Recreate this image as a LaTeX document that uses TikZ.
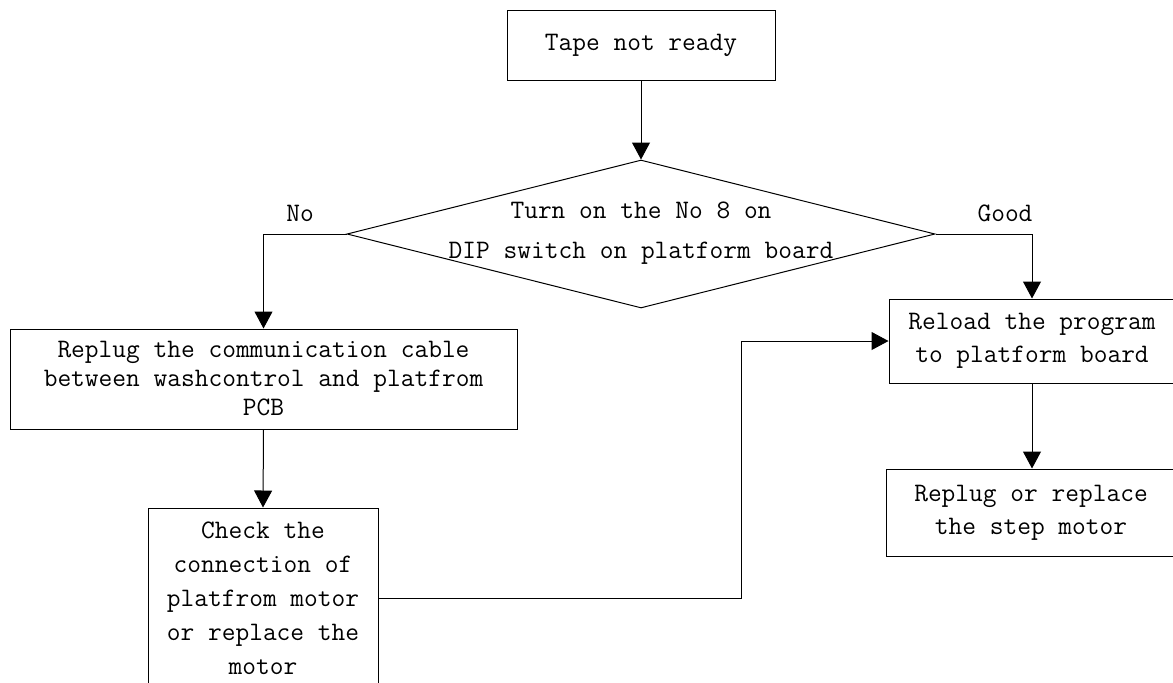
\documentclass[tikz,border=0pt]{standalone}
\usepackage{tikz}
\usetikzlibrary{shapes.geometric,arrows.meta,calc,positioning}
\tikzset{
    box/.style={draw, line width=0.75pt, inner sep=0pt, align=center, font=\fontsize{20}{#1}\ttfamily},
    box/.default={25pt},
    decision/.style={draw, diamond, line width=0.75pt, inner sep=0pt, minimum width=441pt, minimum height=111pt},
    flow/.style={line width=0.75pt, -{Triangle[length=12.75pt,width=13.5pt]}},
    lbl/.style={font=\fontsize{20}{25}\ttfamily, inner sep=0pt}
}

\begin{document}
\begin{tikzpicture}[x=0.75pt,y=0.75pt,yscale=-1,xscale=1]
		\useasboundingbox (0,0) rectangle (1173,682); %diagram is 1173 wide and 682 high
		\clip (0,0) rectangle (1173,682);
		
		% Text Node
		\node [box, minimum width=201pt, minimum height=52.5pt] (start) at (641,45) {Tape not ready};
		% Text Node
		\node [decision] (dip) at (641,234) {};
		\node [box={30pt}, draw=none] (diptext) at (641,233) {Turn on the No 8 on\\DIP switch on platform board};
		% Text Node
		\node [box={21.75pt}, minimum width=380.25pt, minimum height=75pt] (cable) at (263.5,379) {Replug the communication cable\\between washcontrol and platfrom\\PCB};
		% Text Node
		\node [box={25.5pt}, minimum width=172.5pt, minimum height=135pt] (motor) at (263,598) {Check the\\connection of\\platfrom motor\\or replace the\\motor};
		% Text Node
		\node [box={24.75pt}, minimum width=214.5pt, minimum height=63pt] (reload) at (1032,341) {Reload the program\\to platform board};
		% Text Node
		\node [box={24.75pt}, minimum width=216.75pt, minimum height=65.25pt] (step) at (1031,512.5) {Replug or replace\\the step motor};
		% Text Node
		\node [lbl] (no) at (300,213) {No};
		\node [lbl] (good) at (1005,213) {Good};
		
		% Connection
		\draw [flow] (start.south) -- (dip.north);
		% Connection
		\draw [flow] (dip.west) -| (cable.north);
		% Connection
		\draw [flow] (dip.east) -| (reload.north);
		% Connection
		\draw [flow] (cable.south) -- (motor.north);
		% Connection
		\draw [flow] (motor.east) -- ++(363,0) |- (reload.west);
		% Connection
		\draw [flow] (reload.south) -- (reload.south |- step.north);
		
\end{tikzpicture}
\end{document}
